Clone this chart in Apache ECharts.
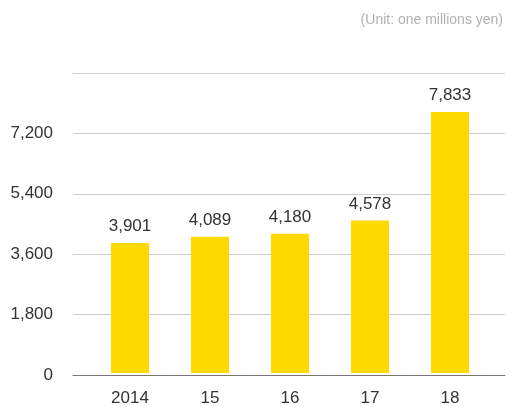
<!DOCTYPE html>
<html>
<head>
<meta charset="utf-8">
<script src="https://cdn.jsdelivr.net/npm/echarts@6/dist/echarts.min.js"></script>
<style>
  html, body { margin: 0; padding: 0; background: #fff; }
  #chart { width: 511px; height: 407px; }
</style>
</head>
<body>
<div id="chart"></div>
<script>
// Fiscal years and net sales (one million yen)
const years = ['2014', '15', '16', '17', '18'];
const sales = [3901, 4089, 4180, 4578, 7833];
const yTicks = [0, 1800, 3600, 5400, 7200, 9000];

const yMin = yTicks[0];
const yMax = yTicks[yTicks.length - 1];
const yStep = yTicks[1] - yTicks[0];
const font = '"Liberation Sans", Arial, sans-serif';

const chart = echarts.init(document.getElementById('chart'));
chart.setOption({
  animation: false,
  textStyle: { fontFamily: font },
  title: {
    text: '(Unit: one millions yen)',
    right: 3,
    top: 8,
    textStyle: { fontSize: 14, fontWeight: 'normal', color: '#b0b0b0', fontFamily: font }
  },
  grid: [
    // frame grid: gridlines, value labels, baseline
    { left: 73, right: 6, top: 73, bottom: 32 },
    // bar grid
    { left: 90, right: 21, top: 73, bottom: 32 }
  ],
  xAxis: [
    {
      gridIndex: 0, type: 'category', data: [''],
      axisLine: { show: true, lineStyle: { color: '#777', width: 1 } },
      axisTick: { show: false }, axisLabel: { show: false }
    },
    {
      gridIndex: 1, type: 'category', data: years,
      axisLine: { show: false }, axisTick: { show: false },
      axisLabel: { margin: 17, fontSize: 17, color: '#333', fontFamily: font }
    }
  ],
  yAxis: [
    {
      gridIndex: 0, type: 'value', min: yMin, max: yMax, interval: yStep,
      axisLine: { show: false }, axisTick: { show: false },
      splitLine: { lineStyle: { color: '#cfcfcf', width: 1 } },
      axisLabel: {
        margin: 20, fontSize: 17, color: '#333', fontFamily: font,
        formatter: v => (v === yMax ? '' : v.toLocaleString('en-US'))
      }
    },
    {
      gridIndex: 1, type: 'value', min: yMin, max: yMax, interval: yStep,
      show: false, splitLine: { show: false }
    }
  ],
  series: [{
    type: 'bar',
    xAxisIndex: 1, yAxisIndex: 1,
    data: sales,
    barWidth: 38,
    itemStyle: { color: '#FFDA00' },
    label: {
      show: true, position: 'top', distance: 8,
      fontSize: 17, color: '#333', fontFamily: font,
      formatter: p => p.value.toLocaleString('en-US')
    }
  }]
});
</script>
</body>
</html>
